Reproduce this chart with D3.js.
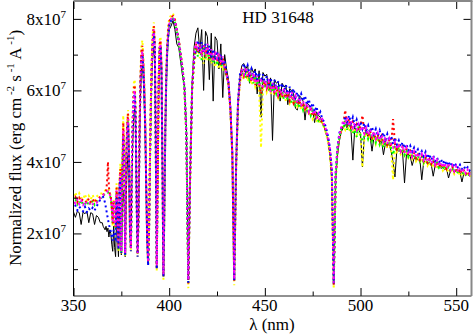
<!DOCTYPE html>
<html>
<head>
<meta charset="utf-8">
<script src="https://cdn.jsdelivr.net/npm/d3@7"></script>
<style>
  html, body { margin: 0; padding: 0; background: #fff; }
  svg { display: block; }
</style>
</head>
<body>
<svg id="chart" width="474" height="335"></svg>
<script>
// wavelength grid (nm): 1 nm below 365, 0.5 nm in the Balmer forest, 1 nm above 400
const lambdaGrid = [].concat(d3.range(350, 365, 1), d3.range(365, 400.25, 0.5), d3.range(401, 559, 1));

// fluxes in units of 1e7 erg cm-2 s-1 A-1
const observedFlux = [
  2.60, 2.45, 2.62, 2.58, 2.25, 2.60, 2.55, 2.62, 2.30, 2.58, 2.55, 2.25, 2.50, 2.45, 2.30,
  2.30, 2.20, 2.15, 2.10, 2.20, 2.05, 2.15, 1.90, 2.10, 2.00,
  1.70, 1.50, 2.20, 1.60, 1.35, 2.40, 2.00, 1.35, 2.50, 2.60,
  1.40, 2.60, 3.20, 2.80, 1.35, 2.90, 3.80, 4.20, 3.50, 2.00,
  1.60, 3.40, 4.60, 5.30, 5.50, 4.80, 2.80, 1.50, 2.40, 4.40,
  5.80, 6.60, 6.70, 6.30, 5.60, 4.60, 3.20, 1.90, 1.30, 2.20,
  4.00, 5.50, 6.50, 7.00, 7.20, 6.80, 4.60, 1.20, 3.40, 5.80,
  6.80, 7.00, 6.40, 3.80, 0.95, 2.60, 4.80, 6.10, 6.90, 7.40,
  7.70,
  7.80, 7.95, 7.70, 7.30, 7.20, 6.80, 6.40, 6.10, 5.00, 0.80,
  3.60, 6.20, 7.20, 7.60, 7.75, 7.10, 7.70, 6.00, 7.65, 7.50,
  6.30, 7.60, 5.70, 7.50, 7.40, 6.60, 7.30, 5.80, 7.00, 6.60,
  6.30, 5.60, 4.30, 0.75, 4.00, 5.60, 6.40, 6.70, 6.75, 6.60,
  6.70, 6.20, 6.65, 6.50, 6.60, 5.90, 6.55, 5.25, 6.50, 6.40,
  6.45, 6.00, 6.35, 4.60, 6.30, 6.20, 6.25, 5.70, 6.20, 6.10,
  6.15, 5.60, 6.05, 6.00, 5.90, 5.50, 5.45, 5.85, 5.80, 5.70,
  5.17, 5.65, 5.60, 5.50, 5.45, 5.10, 5.40, 5.30, 5.25, 5.10,
  5.00, 4.80, 4.60, 4.20, 3.50, 0.70, 3.50, 4.20, 4.60, 4.85,
  4.95, 5.05, 4.95, 5.10, 4.90, 4.05, 4.95, 4.85, 4.90, 4.80,
  3.86, 4.75, 4.80, 4.70, 4.72, 4.30, 4.68, 4.60, 4.62, 4.55,
  4.58, 4.20, 4.52, 4.45, 4.48, 4.30, 4.00, 3.58, 4.35, 4.30,
  4.33, 4.25, 3.41, 4.20, 4.22, 4.15, 3.90, 4.10, 4.12, 4.05,
  4.08, 3.50, 4.00, 4.02, 3.95, 3.98, 3.92, 3.60, 3.90, 3.85,
  3.88, 3.82, 3.85, 3.78, 3.80, 3.55, 3.75, 3.78, 3.72, 3.74,
  3.68, 3.70, 3.44, 3.68, 3.65, 3.66, 3.60, 3.62
];

const yellowFlux = [
  3.05, 3.15, 2.98, 3.12, 3.00, 2.95, 3.10, 2.92, 3.05, 2.95, 3.08, 2.92, 3.02, 3.08, 3.12,
  3.12, 3.15, 3.18, 3.20, 3.22, 3.25, 3.25, 3.20, 3.15, 3.05,
  2.70, 2.20, 2.95, 2.25, 2.10, 3.40, 2.70, 1.50, 3.50, 3.95,
  1.40, 3.80, 5.30, 4.40, 1.35, 4.00, 5.20, 5.45, 4.40, 2.10,
  1.50, 4.00, 5.50, 6.20, 6.30, 5.40, 2.90, 1.35, 2.50, 5.00,
  6.50, 7.25, 7.40, 6.90, 6.20, 5.20, 3.30, 1.80, 1.10, 2.10,
  4.40, 6.00, 7.10, 7.70, 7.90, 7.40, 4.40, 0.95, 3.50, 6.40,
  7.40, 7.50, 6.80, 3.70, 0.70, 2.70, 5.10, 6.60, 7.40, 7.80,
  8.00,
  8.10, 8.15, 8.00, 7.75, 7.45, 7.05, 6.65, 6.00, 4.60, 0.47,
  3.60, 6.00, 6.70, 7.05, 7.25, 6.90, 7.10, 6.75, 7.15, 6.85,
  7.05, 6.75, 6.95, 6.65, 6.90, 6.60, 6.80, 6.55, 6.70, 6.40,
  6.15, 5.40, 4.10, 0.55, 3.80, 5.60, 6.20, 6.45, 6.30, 6.50,
  6.25, 6.40, 6.15, 6.35, 6.10, 6.25, 6.05, 4.40, 6.00, 6.20,
  5.95, 6.10, 5.90, 6.05, 5.85, 6.00, 5.80, 5.95, 5.75, 5.90,
  5.70, 5.85, 5.65, 5.80, 5.60, 5.75, 5.55, 5.65, 5.45, 5.55,
  5.40, 5.50, 5.30, 5.40, 5.20, 5.30, 5.15, 5.20, 5.05, 5.10,
  4.95, 4.80, 4.55, 4.20, 3.50, 0.45, 3.40, 4.30, 4.70, 4.85,
  5.00, 4.90, 5.05, 4.85, 5.00, 4.80, 4.95, 4.75, 4.90, 4.70,
  3.85, 4.65, 4.82, 4.60, 4.78, 4.55, 4.72, 4.50, 4.68, 4.48,
  4.62, 4.42, 4.58, 4.38, 4.52, 4.35, 3.50, 4.40, 4.28, 4.38,
  4.22, 4.32, 4.18, 4.28, 4.12, 4.22, 4.08, 4.18, 4.02, 4.12,
  3.98, 4.10, 3.95, 4.05, 3.90, 4.00, 3.86, 3.96, 3.82, 3.92,
  3.80, 3.88, 3.76, 3.85, 3.72, 3.82, 3.70, 3.78, 3.66, 3.75,
  3.64, 3.72, 3.62, 3.68, 3.60, 3.66, 3.58, 3.64
];

const greenFlux = [
  2.85, 2.95, 2.82, 2.92, 2.80, 2.90, 2.84, 2.78, 2.90, 2.80, 2.92, 2.80, 2.88, 2.92, 2.98,
  3.00, 3.04, 3.08, 3.10, 3.12, 3.14, 3.15, 3.10, 3.05, 2.98,
  2.70, 2.25, 2.88, 2.30, 2.15, 3.15, 2.65, 1.55, 3.25, 3.65,
  1.45, 3.55, 4.80, 4.15, 1.40, 3.75, 4.85, 5.15, 4.15, 2.15,
  1.55, 3.75, 5.15, 5.85, 5.95, 5.15, 2.95, 1.40, 2.55, 4.75,
  6.15, 6.95, 7.05, 6.65, 5.95, 4.95, 3.35, 1.85, 1.15, 2.15,
  4.15, 5.75, 6.85, 7.45, 7.65, 7.15, 4.45, 1.05, 3.55, 6.15,
  7.15, 7.25, 6.55, 3.75, 0.80, 2.75, 4.95, 6.35, 7.15, 7.55,
  7.80,
  7.95, 8.00, 7.90, 7.65, 7.35, 6.95, 6.55, 6.05, 4.75, 0.62,
  3.75, 6.05, 6.95, 7.20, 6.95, 7.25, 6.85, 7.20, 6.90, 7.15,
  6.85, 7.05, 6.75, 7.00, 6.70, 6.95, 6.65, 6.85, 6.55, 6.40,
  6.15, 5.45, 4.25, 0.68, 3.95, 5.65, 6.35, 6.40, 6.60, 6.35,
  6.55, 6.30, 6.45, 6.20, 6.40, 6.15, 6.35, 5.85, 6.30, 6.05,
  6.25, 6.00, 6.15, 5.95, 6.10, 5.90, 6.05, 5.80, 6.00, 5.75,
  5.95, 5.70, 5.85, 5.65, 5.80, 5.55, 5.75, 5.50, 5.65, 5.45,
  5.60, 5.40, 5.50, 5.30, 5.45, 5.25, 5.35, 5.15, 5.20, 5.05,
  5.00, 4.85, 4.65, 4.35, 3.70, 0.58, 3.60, 4.35, 4.70, 4.95,
  4.95, 5.15, 4.90, 5.10, 4.85, 4.80, 4.90, 4.70, 5.00, 4.75,
  4.60, 4.72, 4.88, 4.65, 4.82, 4.60, 4.78, 4.55, 4.72, 4.50,
  4.68, 4.40, 4.62, 4.42, 4.58, 4.38, 4.20, 4.45, 4.30, 4.42,
  4.25, 4.38, 4.20, 4.32, 4.15, 4.28, 4.10, 4.22, 4.05, 4.18,
  4.02, 4.15, 3.98, 4.10, 3.95, 4.05, 3.90, 4.02, 3.88, 3.98,
  3.84, 3.92, 3.80, 3.90, 3.78, 3.86, 3.74, 3.82, 3.72, 3.80,
  3.68, 3.76, 3.66, 3.72, 3.64, 3.70, 3.62, 3.68
];

const redFlux = [
  2.95, 3.02, 2.88, 3.00, 2.90, 2.96, 2.92, 2.86, 2.98, 2.88, 2.96, 2.86, 2.94, 2.98, 3.02,
  3.05, 3.08, 3.12, 3.15, 3.18, 3.40, 4.00, 3.30, 3.10, 3.02,
  2.72, 2.28, 2.92, 2.32, 2.18, 3.28, 2.72, 1.58, 3.35, 3.80,
  1.48, 3.65, 5.10, 4.30, 1.42, 3.90, 5.05, 5.35, 4.30, 2.15,
  1.58, 3.90, 5.35, 6.05, 6.15, 5.30, 2.95, 1.42, 2.55, 4.90,
  6.35, 7.10, 7.25, 6.80, 6.10, 5.10, 3.35, 1.85, 1.18, 2.15,
  4.30, 5.90, 7.00, 7.60, 7.80, 7.30, 4.45, 1.05, 3.55, 6.30,
  7.30, 7.40, 6.70, 3.75, 0.80, 2.75, 5.05, 6.50, 7.30, 7.70,
  7.92,
  8.05, 8.08, 7.98, 7.72, 7.42, 7.02, 6.62, 6.05, 4.70, 0.60,
  3.70, 6.05, 6.80, 7.30, 7.05, 7.20, 7.00, 7.30, 6.95, 7.20,
  6.90, 7.10, 6.85, 7.05, 6.80, 7.00, 6.70, 6.90, 6.65, 6.42,
  6.18, 5.45, 4.20, 0.65, 3.90, 5.65, 6.28, 6.55, 6.40, 6.60,
  6.35, 6.50, 6.25, 6.45, 6.15, 6.35, 6.20, 5.90, 6.15, 6.25,
  6.05, 6.20, 6.00, 6.15, 5.95, 6.10, 5.85, 6.00, 5.80, 5.98,
  5.78, 5.92, 5.72, 5.88, 5.65, 5.80, 5.60, 5.72, 5.55, 5.65,
  5.48, 5.58, 5.38, 5.48, 5.28, 5.40, 5.22, 5.28, 5.10, 5.15,
  5.00, 4.85, 4.62, 4.30, 3.65, 0.55, 3.55, 4.35, 4.72, 4.90,
  5.05, 5.45, 5.00, 5.20, 4.98, 5.12, 4.95, 5.05, 4.88, 5.00,
  5.30, 4.78, 4.92, 4.72, 4.86, 4.68, 4.82, 4.62, 4.76, 4.58,
  4.72, 4.52, 4.66, 4.48, 4.60, 4.42, 5.20, 4.50, 4.35, 4.45,
  4.30, 4.42, 4.26, 4.36, 4.20, 4.30, 4.15, 4.25, 4.10, 4.20,
  4.06, 4.18, 4.02, 4.12, 3.98, 4.08, 3.94, 4.04, 3.90, 4.00,
  3.86, 3.96, 3.83, 3.92, 3.80, 3.90, 3.76, 3.86, 3.73, 3.82,
  3.70, 3.80, 3.68, 3.76, 3.66, 3.74, 3.63, 3.70
];

const blueFlux = [
  2.72, 2.78, 2.65, 2.75, 2.68, 2.62, 2.74, 2.60, 2.70, 2.64, 2.72, 2.64, 2.75, 2.85, 2.95,
  3.00, 3.02, 2.95, 2.85, 2.70, 2.55, 2.40, 2.25, 2.15, 2.05,
  1.90, 1.80, 2.10, 1.90, 1.85, 3.00, 2.50, 1.55, 3.20, 3.55,
  1.45, 3.50, 4.70, 4.10, 1.40, 3.70, 4.80, 5.10, 4.10, 2.10,
  1.50, 3.70, 5.10, 5.80, 5.90, 5.10, 2.90, 1.35, 2.50, 4.70,
  6.10, 6.90, 7.00, 6.60, 5.90, 4.90, 3.30, 1.80, 1.10, 2.10,
  4.10, 5.70, 6.80, 7.40, 7.60, 7.10, 4.40, 1.00, 3.50, 6.10,
  7.10, 7.20, 6.50, 3.70, 0.78, 2.70, 4.90, 6.30, 7.10, 7.50,
  7.80,
  7.95, 8.02, 7.92, 7.68, 7.38, 6.98, 6.58, 6.08, 4.75, 0.62,
  3.75, 6.10, 6.85, 7.15, 7.40, 7.05, 7.35, 7.05, 7.30, 7.00,
  7.25, 6.90, 7.15, 6.85, 7.10, 6.80, 7.00, 6.70, 6.85, 6.48,
  6.22, 5.50, 4.25, 0.68, 3.95, 5.72, 6.45, 6.50, 6.75, 6.55,
  6.70, 6.45, 6.60, 6.35, 6.55, 6.30, 6.50, 6.25, 6.45, 6.20,
  6.40, 6.15, 6.35, 6.10, 6.30, 6.05, 6.25, 6.00, 6.20, 5.95,
  6.15, 5.90, 6.10, 5.85, 6.05, 5.80, 5.95, 5.75, 5.90, 5.70,
  5.85, 5.60, 5.75, 5.50, 5.65, 5.40, 5.55, 5.30, 5.40, 5.20,
  5.12, 4.95, 4.72, 4.40, 3.75, 0.60, 3.65, 4.45, 4.82, 4.95,
  5.05, 5.28, 5.10, 5.30, 5.08, 5.25, 5.02, 5.18, 4.98, 5.12,
  4.92, 5.08, 4.88, 5.02, 4.82, 4.98, 4.78, 4.92, 4.72, 4.88,
  4.68, 4.82, 4.62, 4.78, 4.58, 4.72, 4.50, 4.68, 4.48, 4.60,
  4.42, 4.55, 4.38, 4.50, 4.32, 4.45, 4.28, 4.40, 4.25, 4.35,
  4.20, 4.30, 4.15, 4.28, 4.10, 4.22, 4.05, 4.18, 4.02, 4.12,
  3.98, 4.08, 3.95, 4.05, 3.90, 4.02, 3.88, 3.98, 3.85, 3.95,
  3.82, 3.92, 3.80, 3.88, 3.78, 3.85, 3.75, 3.82
];

const magentaFlux = [
  2.90, 2.84, 2.95, 2.82, 2.92, 2.80, 2.90, 2.84, 2.80, 2.88, 2.82, 2.86, 2.85, 2.92, 2.98,
  3.02, 3.06, 3.10, 3.13, 3.15, 3.17, 3.18, 3.14, 3.08, 3.00,
  2.75, 2.30, 2.90, 2.35, 2.20, 3.20, 2.70, 1.60, 3.30, 3.70,
  1.50, 3.60, 4.90, 4.20, 1.45, 3.80, 4.90, 5.20, 4.20, 2.20,
  1.60, 3.80, 5.20, 5.90, 6.00, 5.20, 3.00, 1.45, 2.60, 4.80,
  6.20, 7.00, 7.10, 6.70, 6.00, 5.00, 3.40, 1.90, 1.20, 2.20,
  4.20, 5.80, 6.90, 7.50, 7.70, 7.20, 4.50, 1.10, 3.60, 6.20,
  7.20, 7.30, 6.60, 3.80, 0.85, 2.80, 5.00, 6.40, 7.20, 7.60,
  7.85,
  8.00, 8.05, 7.95, 7.70, 7.40, 7.00, 6.60, 6.10, 4.80, 0.70,
  3.80, 6.10, 7.05, 7.35, 7.10, 7.30, 6.95, 7.25, 7.00, 7.30,
  6.95, 7.15, 6.80, 7.10, 6.90, 7.05, 6.75, 6.95, 6.60, 6.45,
  6.20, 5.50, 4.30, 0.72, 4.00, 5.70, 6.30, 6.60, 6.45, 6.65,
  6.40, 6.55, 6.25, 6.50, 6.20, 6.40, 6.15, 6.35, 6.05, 6.30,
  6.10, 6.25, 5.95, 6.20, 5.95, 6.15, 5.90, 6.05, 5.85, 6.05,
  5.80, 6.00, 5.75, 5.95, 5.70, 5.85, 5.65, 5.80, 5.60, 5.70,
  5.50, 5.65, 5.40, 5.55, 5.35, 5.45, 5.25, 5.35, 5.15, 5.20,
  5.05, 4.90, 4.70, 4.40, 3.80, 0.62, 3.70, 4.40, 4.75, 5.00,
  5.15, 5.05, 5.25, 5.00, 5.15, 4.95, 5.10, 4.90, 5.05, 4.85,
  5.00, 4.80, 4.95, 4.75, 4.90, 4.70, 4.85, 4.65, 4.80, 4.60,
  4.75, 4.55, 4.70, 4.50, 4.65, 4.45, 4.40, 4.55, 4.35, 4.50,
  4.30, 4.45, 4.25, 4.40, 4.20, 4.35, 4.15, 4.30, 4.12, 4.25,
  4.08, 4.22, 4.05, 4.18, 4.00, 4.12, 3.95, 4.10, 3.92, 4.05,
  3.88, 4.00, 3.85, 3.98, 3.82, 3.95, 3.78, 3.90, 3.75, 3.88,
  3.72, 3.85, 3.70, 3.80, 3.68, 3.78, 3.65, 3.75
];

const xMajorTicks = [350, 400, 450, 500, 550];
const xMinorTicks = [375, 425, 475, 525];
const yMajorTicks = [2, 4, 6, 8];
const yMinorTicks = [1, 3, 5, 7];
const fluxExponent = '7';
const titleText = 'HD 31648';

const serifFont = '"Liberation Serif", "DejaVu Serif", "Times New Roman", Times, serif';

// plot frame in pixels
const frameLeft = 73.5, frameRight = 471.5, frameTop = 1, frameBottom = 296;

const svg = d3.select('#chart').attr('font-family', serifFont);
const x = d3.scaleLinear().domain([350, 558]).range([frameLeft, frameRight]);
const y = d3.scaleLinear().domain([0.25, 8.5]).range([frameBottom, frameTop]);

svg.append('defs').append('clipPath').attr('id', 'plotArea')
  .append('rect').attr('x', frameLeft).attr('y', frameTop)
  .attr('width', frameRight - frameLeft).attr('height', frameBottom - frameTop);

const line = d3.line().x((d, i) => x(lambdaGrid[i])).y(d => y(d));

const plot = svg.append('g').attr('clip-path', 'url(#plotArea)');

// observed spectrum under, model spectra dotted on top
plot.append('path').datum(observedFlux)
  .attr('d', line).attr('fill', 'none').attr('stroke', '#000').attr('stroke-width', 1);

const models = [
  {name: 'yellow', values: yellowFlux, color: '#ffff00', offset: 0},
  {name: 'green', values: greenFlux, color: '#00ff00', offset: 1},
  {name: 'red', values: redFlux, color: '#ff0000', offset: 2},
  {name: 'blue', values: blueFlux, color: '#0000ff', offset: 3},
  {name: 'magenta', values: magentaFlux, color: '#ff00ff', offset: 4},
];
models.forEach(m => {
  plot.append('path').datum(m.values)
    .attr('d', line).attr('fill', 'none')
    .attr('stroke', m.color).attr('stroke-width', 2)
    .attr('stroke-dasharray', '2,3').attr('stroke-dashoffset', m.offset);
});

// ticks on all four sides, pointing inward
function tickAxis(axis, values, size, transform) {
  const g = svg.append('g').attr('transform', transform)
    .call(axis.tickValues(values).tickSize(-size).tickFormat(''));
  g.select('.domain').remove();
  g.selectAll('.tick line').attr('stroke', '#000');
  return g;
}
tickAxis(d3.axisBottom(x), xMajorTicks, 8, `translate(0,${frameBottom})`);
tickAxis(d3.axisBottom(x), xMinorTicks, 4.5, `translate(0,${frameBottom})`);
tickAxis(d3.axisTop(x), xMajorTicks, 8, `translate(0,${frameTop})`);
tickAxis(d3.axisTop(x), xMinorTicks, 4.5, `translate(0,${frameTop})`);
tickAxis(d3.axisLeft(y), yMajorTicks, 8, `translate(${frameLeft},0)`);
tickAxis(d3.axisLeft(y), yMinorTicks, 4.5, `translate(${frameLeft},0)`);
tickAxis(d3.axisRight(y), yMajorTicks, 8, `translate(${frameRight},0)`);
tickAxis(d3.axisRight(y), yMinorTicks, 4.5, `translate(${frameRight},0)`);

// frame
svg.append('line').attr('x1', frameLeft).attr('x2', frameLeft).attr('y1', frameTop).attr('y2', frameBottom).attr('stroke', '#000');
svg.append('line').attr('x1', frameLeft).attr('x2', frameRight).attr('y1', frameBottom).attr('y2', frameBottom).attr('stroke', '#222');
svg.append('line').attr('x1', frameLeft).attr('x2', frameRight + 1).attr('y1', frameTop).attr('y2', frameTop).attr('stroke', '#888').attr('stroke-width', 2);
svg.append('line').attr('x1', frameRight).attr('x2', frameRight).attr('y1', frameTop).attr('y2', frameBottom).attr('stroke', '#888').attr('stroke-width', 2);

// x tick labels
svg.append('g').selectAll('text').data(xMajorTicks).join('text')
  .attr('x', d => x(d)).attr('y', 310.5)
  .attr('text-anchor', 'middle').attr('font-size', 17)
  .text(d => d);

// y tick labels: "8x10^7"
const yLabels = svg.append('g').selectAll('text').data(yMajorTicks).join('text')
  .attr('x', 66).attr('y', d => y(d) + 6)
  .attr('text-anchor', 'end').attr('font-size', 17);
yLabels.append('tspan').text(d => d + 'x10');
yLabels.append('tspan').attr('font-size', 11).attr('dy', -7).text(fluxExponent);

// axis titles
svg.append('text').attr('x', 272).attr('y', 330)
  .attr('text-anchor', 'middle').attr('font-size', 17).text('λ (nm)');

const yTitle = svg.append('text')
  .attr('transform', 'translate(21,148) rotate(-90)')
  .attr('text-anchor', 'middle').attr('font-size', 17);
yTitle.append('tspan').text('Normalized flux (erg cm');
yTitle.append('tspan').attr('font-size', 11).attr('dy', -7).text(' -2');
yTitle.append('tspan').attr('dy', 7).text(' s');
yTitle.append('tspan').attr('font-size', 11).attr('dy', -7).text(' -1');
yTitle.append('tspan').attr('dy', 7).text(' A');
yTitle.append('tspan').attr('font-size', 11).attr('dy', -7).text(' -1');
yTitle.append('tspan').attr('dy', 7).text(')');

svg.append('text').attr('x', 278).attr('y', 23)
  .attr('text-anchor', 'middle').attr('font-size', 17).text(titleText);

// sanity check of the hand-typed arrays
[observedFlux].concat(models.map(m => m.values)).forEach((arr, k) => {
  if (arr.length !== lambdaGrid.length) throw new Error('series ' + k + ' has ' + arr.length + ' points, grid ' + lambdaGrid.length);
});
</script>
</body>
</html>
